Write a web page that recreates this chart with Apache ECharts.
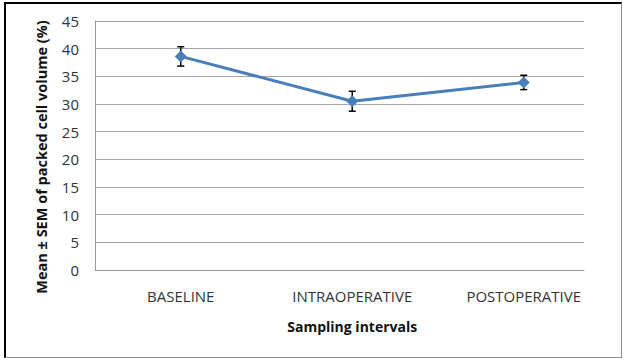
<!DOCTYPE html>
<html>
<head>
<meta charset="utf-8">
<script src="https://cdn.jsdelivr.net/npm/echarts@6/dist/echarts.min.js"></script>
<style>
  html, body { margin: 0; padding: 0; background: #fff; }
  #chart { position: absolute; left: 0; top: 0; width: 623px; height: 358px; }
  #frame { position: absolute; left: 4px; top: 2px; width: 618px; height: 356px; box-sizing: border-box;
           border-top: 2px solid #000; border-left: 2px solid #000; border-right: 1px solid #8c8c8c; border-bottom: 1px solid #8c8c8c;
           pointer-events: none; }
</style>
</head>
<body>
<div id="chart"></div>
<div id="frame"></div>
<script>
// ---- data ----
var categories = ['BASELINE', 'INTRAOPERATIVE', 'POSTOPERATIVE'];
var meanValues = [38.6, 30.5, 33.9];
var semValues = [1.75, 1.8, 1.3];
var yMin = 0, yMax = 45, yStep = 5;
var xAxisTitle = 'Sampling intervals';
var yAxisTitle = 'Mean ± SEM of packed cell volume (%)';

var errorData = categories.map(function (c, i) {
  return [i, meanValues[i] - semValues[i], meanValues[i] + semValues[i]];
});

var chart = echarts.init(document.getElementById('chart'), null, { renderer: 'svg' });
var FONT = 'Open Sans';

chart.setOption({
  animation: false,
  backgroundColor: '#fff',
  grid: [
    { left: 95, top: 21, width: 514.5, bottom: 88 },
    { left: 95, top: 21, right: 39, bottom: 88 }
  ],
  xAxis: [
    {
      type: 'category', gridIndex: 0, data: categories, boundaryGap: true,
      axisLine: { show: false }, axisTick: { show: false },
      axisLabel: { margin: 18, fontFamily: FONT, fontSize: 15, color: '#333' },
      name: xAxisTitle, nameLocation: 'middle', nameGap: 49,
      nameTextStyle: { fontFamily: FONT, fontSize: 14, fontWeight: 'bold', color: '#111' }
    },
    {
      type: 'value', gridIndex: 1, min: 0, max: 1,
      axisLine: { show: true, lineStyle: { color: '#9a9a9a', width: 1 } },
      axisTick: { show: false }, axisLabel: { show: false }, splitLine: { show: false }
    }
  ],
  yAxis: [
    {
      type: 'value', gridIndex: 0, min: yMin, max: yMax, interval: yStep,
      show: false
    },
    {
      type: 'value', gridIndex: 1, min: yMin, max: yMax, interval: yStep,
      axisLine: { show: true, lineStyle: { color: '#9a9a9a', width: 1 } },
      axisTick: { show: false },
      axisLabel: { margin: 16, fontFamily: FONT, fontSize: 15, color: '#333' },
      splitLine: { show: true, lineStyle: { color: '#a6a6a6', width: 1 } }
    }
  ],
  graphic: [
    {
      type: 'text', rotation: Math.PI / 2,
      x: 41, y: 157,
      style: { text: yAxisTitle, font: 'bold 14.5px "Open Sans"', fill: '#111', textAlign: 'center', textVerticalAlign: 'middle' }
    }
  ],
  series: [
    {
      type: 'custom', xAxisIndex: 0, yAxisIndex: 0, z: 1,
      data: errorData,
      renderItem: function (params, api) {
        var i = api.value(0);
        var lo = api.coord([i, api.value(1)]);
        var hi = api.coord([i, api.value(2)]);
        var hw = 3.5;
        var st = { stroke: '#000', lineWidth: 1.5 };
        return {
          type: 'group',
          children: [
            { type: 'line', shape: { x1: lo[0], y1: lo[1], x2: hi[0], y2: hi[1] }, style: st },
            { type: 'line', shape: { x1: lo[0] - hw, y1: lo[1], x2: lo[0] + hw, y2: lo[1] }, style: st },
            { type: 'line', shape: { x1: hi[0] - hw, y1: hi[1], x2: hi[0] + hw, y2: hi[1] }, style: st }
          ]
        };
      }
    },
    {
      type: 'line', xAxisIndex: 0, yAxisIndex: 0, z: 3,
      data: meanValues,
      symbol: 'diamond', symbolSize: 12,
      lineStyle: { color: '#4a7ebb', width: 3 },
      itemStyle: { color: '#4a7ebb' }
    }
  ]
});
</script>
</body>
</html>
